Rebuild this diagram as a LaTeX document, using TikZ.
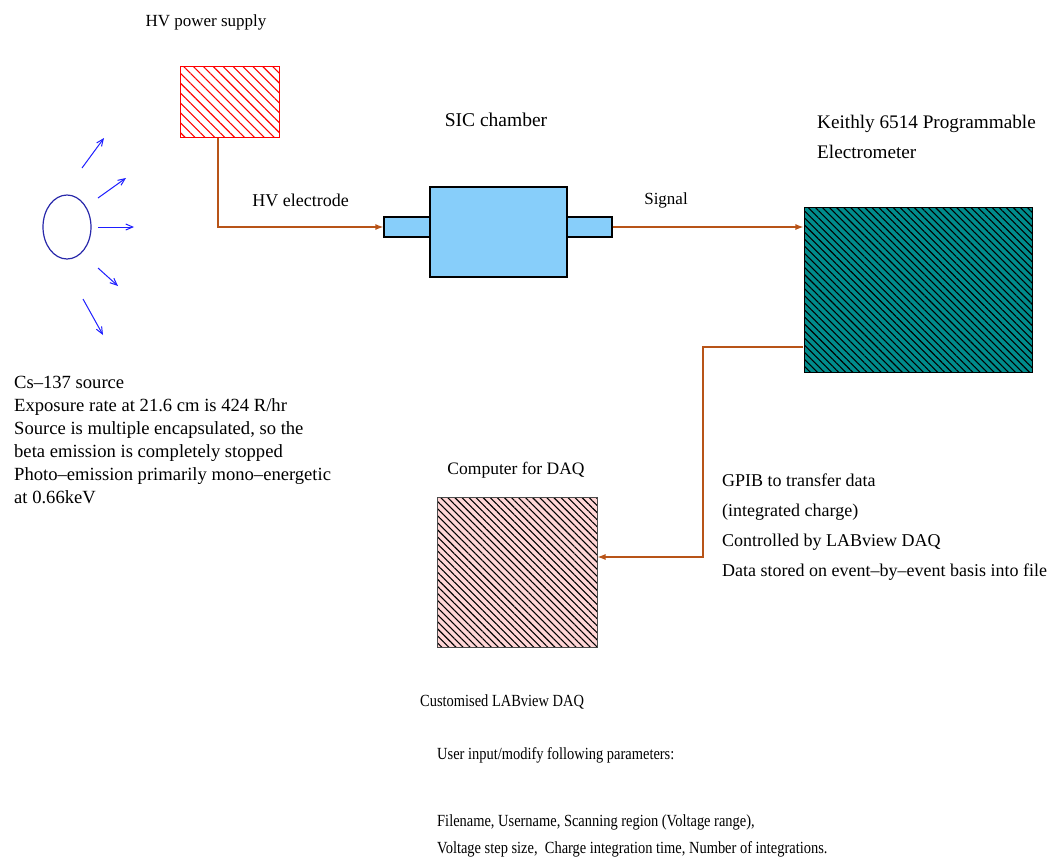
\documentclass[tikz,border=0pt]{standalone}
\usepackage{fontspec}
\setmainfont{Liberation Serif}
\newfontfamily\narrowserif[FakeStretch=0.85]{Liberation Serif}
\usetikzlibrary{arrows.meta,patterns.meta,shapes.geometric,positioning}

\definecolor{wirebrown}{RGB}{184,84,24}
\definecolor{chamberblue}{RGB}{135,206,250}
\definecolor{meterteal}{RGB}{0,140,140}
\definecolor{daqpink}{RGB}{255,214,214}
\definecolor{srcblue}{RGB}{40,40,170}
\definecolor{rayblue}{RGB}{30,30,255}

\tikzset{
	lbl/.style={font=\fontsize{#1}{23}\selectfont, inner sep=0pt},
	lbl/.default=17,
	notes/.style={font=\narrowserif\fontsize{17}{27}\selectfont, inner sep=0pt, anchor=west, align=left},
	hatch/.style={pattern={Lines[angle=-45,distance=#1,line width=1.1pt]}},
	wire/.style={draw=wirebrown, line width=1.2pt, -{Latex[length=8pt,width=6pt]}},
	ray/.style={rayblue, line width=1pt, -{Straight Barb[length=7pt,width=6pt]}},
	chamber/.style={draw=black, fill=chamberblue, line width=1.2pt, inner sep=0pt},
}

\begin{document}
\begin{tikzpicture}[x=1pt, y=-1pt]
	\useasboundingbox (0,0) rectangle (1061,863);

	% source and its gamma rays
	\node[ellipse, draw=srcblue, line width=1.2pt, minimum width=48pt, minimum height=64pt] (src) at (67,227) {};
	\foreach \xa/\ya/\xb/\yb in {82/168/104/138, 98/198/126/178, 98/227/134/227, 98/268/118/286, 83/299/103/335}
		\draw[ray] (\xa,\ya) -- (\xb,\yb);
	\node[lbl=18.6, anchor=west, align=left] (srclbl) at (14,440) {Cs--137 source\\
		Exposure rate at 21.6 cm is 424 R/hr\\
		Source is multiple encapsulated, so the\\
		beta emission is completely stopped\\
		Photo--emission primarily mono--energetic\\
		at 0.66keV};

	% HV supply
	\node[draw=red, line width=1pt, hatch=7pt, pattern color=red, minimum width=99pt, minimum height=71pt] (hv) at (229.5,101.5) {};
	\node[lbl] (hvlbl) at (206,22) {HV power supply};

	% chamber with its two stubs
	\node[chamber, minimum width=46pt, minimum height=20pt] (stubL) at (407,227) {};
	\node[chamber, minimum width=45pt, minimum height=20pt] (stubR) at (589.5,227) {};
	\node[chamber, minimum width=137pt, minimum height=90pt] (sic) at (498.5,232) {};
	\node[lbl=19.5] (siclbl) at (496,120) {SIC chamber};

	% electrometer
	\node[draw=black, line width=1pt, preaction={fill=meterteal}, hatch=5pt, pattern color=black, minimum width=228pt, minimum height=165pt] (meter) at (918,289.5) {};
	\node[lbl, anchor=west, align=left, font=\fontsize{19.2}{30}\selectfont] (meterlbl) at (817,137) {Keithly 6514 Programmable\\Electrometer};

	% DAQ computer
	\node[draw=black!70, line width=1pt, preaction={fill=daqpink}, hatch=5pt, pattern color=black, minimum width=160pt, minimum height=150pt] (pc) at (517,572) {};
	\node[lbl=17.5] (pclbl) at (516,470) {Computer for DAQ};

	% cabling
	\coordinate (bend) at (703,347);
	\draw[wire] ([xshift=-11.5pt]hv.south) |- (stubL.west) node[lbl=18, pos=0.75, yshift=27pt] (hvel) {HV electrode};
	\draw[wire] (stubR.east) -- (stubR.east -| meter.west) node[lbl, pos=0.28, yshift=27pt] (siglbl) {Signal};
	\draw[wire] (meter.west |- bend) -- (bend) |- ([yshift=15pt]pc.east);

	\node[lbl, anchor=west, align=left, font=\fontsize{18}{30}\selectfont] (gpib) at (722,527) {GPIB to transfer data\\
		(integrated charge)\\
		Controlled by LABview DAQ\\
		Data stored on event--by--event basis into file};

	% software notes
	\node[notes] (sw) at (420,702) {Customised LABview DAQ};
	\node[notes] (usr) at (437,755) {User input/modify following parameters:};
	\node[notes] (pars) at (437,836) {Filename, Username, Scanning region (Voltage range),\\
		Voltage step size,\ \ Charge integration time, Number of integrations.};
\end{tikzpicture}
\end{document}
